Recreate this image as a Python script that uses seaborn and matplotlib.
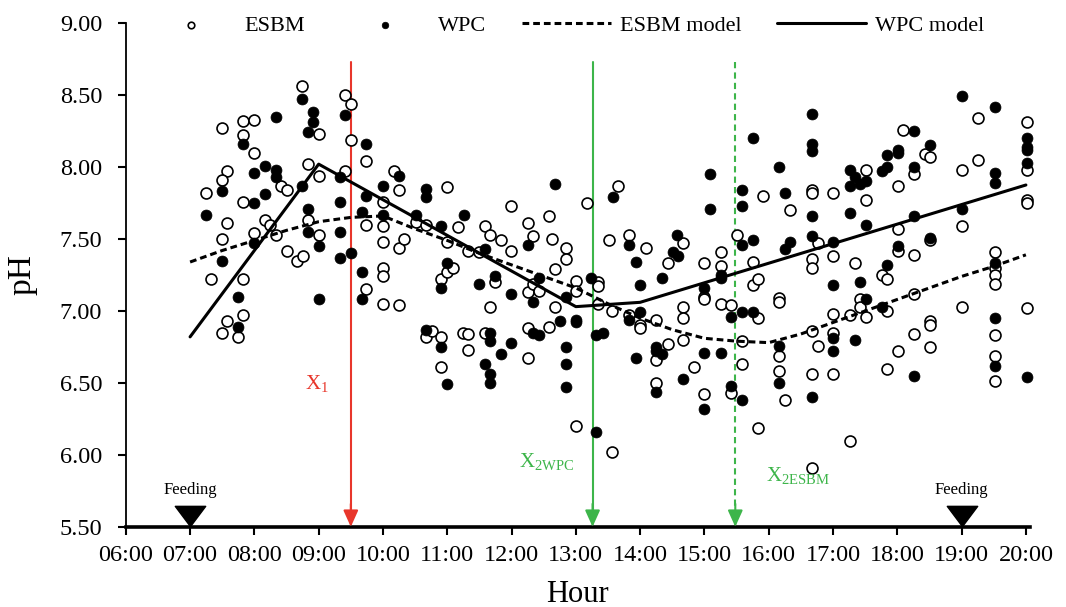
import matplotlib
matplotlib.use("Agg")
import matplotlib.pyplot as plt
import seaborn as sns
import pandas as pd
from matplotlib.path import Path

# ---------------- data ----------------
esbm_hour = [8.74, 9.41, 9.50, 7.50, 7.83, 8.00, 7.83, 8.00, 9.00, 9.50, 8.83, 9.00, 9.41, 9.74,
             7.57, 7.50, 7.24, 8.41, 8.50, 7.83, 8.16, 8.24, 7.57, 8.83, 8.00, 8.33, 9.00, 7.50,
             9.74, 8.50, 8.66, 8.75, 7.32, 7.83, 9.74, 7.57, 7.83, 7.50, 7.75,
             10.17, 10.25, 10.99, 10.00, 10.00, 10.00, 10.25, 10.33, 10.51, 10.67, 10.99, 11.16,
             11.33, 11.50, 11.58, 11.67, 11.84, 11.99, 11.99, 12.25, 12.33, 12.59, 12.63, 12.84,
             12.84, 12.67, 13.00, 13.00, 13.17, 10.00, 10.00, 10.00, 10.25, 10.91, 10.99, 11.09,
             11.74, 11.67, 12.25, 12.33, 12.42, 12.67, 12.59, 10.67, 10.76, 10.91, 11.24, 11.33,
             11.33, 11.58, 10.91, 12.25, 12.25, 13.00,
             13.66, 13.51, 13.83, 14.09, 14.66, 14.43, 13.34, 13.34, 13.34, 13.57, 13.83, 14.00,
             14.00, 14.25, 14.25, 14.25, 14.43, 14.66, 14.66, 14.66, 14.84, 15.00, 15.00, 15.00,
             15.00, 15.26, 15.26, 15.26, 15.42, 15.42, 15.51, 15.58, 15.58, 15.75, 15.75, 15.84,
             15.84, 15.84, 15.91, 16.33, 16.16, 16.16, 16.16, 16.16, 16.25, 16.68, 16.68, 16.68,
             16.68, 16.76, 16.68, 16.76, 16.68, 16.68, 13.57,
             17.00, 17.00, 17.00, 17.00, 17.00, 17.26, 17.26, 17.34, 17.42, 17.42, 17.51, 17.51,
             17.51, 17.76, 17.84, 17.84, 17.84, 18.01, 18.01, 18.01, 18.01, 18.09, 18.26, 18.26,
             18.26, 18.26, 18.43, 18.51, 18.51, 18.51, 18.51, 18.51, 19.01, 19.01, 19.01, 19.26,
             19.26, 19.52, 19.52, 19.52, 19.52, 19.52, 19.52, 19.52, 20.02, 20.02, 20.02, 20.02,
             20.02]
esbm_ph = [8.56, 8.50, 8.44, 8.27, 8.32, 8.33, 8.22, 8.10, 8.23, 8.19, 8.02, 7.94, 7.97, 8.04,
           7.97, 7.91, 7.82, 7.87, 7.84, 7.76, 7.63, 7.60, 7.61, 7.63, 7.54, 7.53, 7.53, 7.50,
           7.60, 7.42, 7.35, 7.38, 7.22, 7.22, 7.15, 6.93, 6.97, 6.85, 6.82,
           7.97, 7.84, 7.86, 7.76, 7.59, 7.48, 7.44, 7.50, 7.62, 7.60, 7.48, 7.58,
           7.42, 7.41, 7.59, 7.53, 7.49, 7.73, 7.42, 7.61, 7.52, 7.66, 7.50, 7.44,
           7.36, 7.29, 7.21, 7.14, 7.75, 7.30, 7.24, 7.05, 7.04, 7.22, 7.27, 7.30,
           7.20, 7.03, 7.13, 7.19, 7.14, 7.03, 6.89, 6.82, 6.86, 6.82, 6.85, 6.84,
           6.73, 6.85, 6.61, 6.88, 6.67, 6.20,
           7.87, 7.49, 7.53, 7.44, 7.47, 7.33, 7.20, 7.17, 7.05, 7.00, 6.97, 6.90,
           6.88, 6.94, 6.66, 6.50, 6.77, 7.03, 6.95, 6.80, 6.61, 7.33, 7.10, 7.08,
           6.42, 7.41, 7.31, 7.05, 7.04, 6.43, 7.53, 6.79, 6.63, 7.34, 7.18, 7.22,
           6.95, 6.19, 7.80, 7.70, 7.09, 7.06, 6.69, 6.58, 6.38, 7.84, 7.82, 7.36,
           7.30, 7.47, 6.86, 6.76, 6.56, 5.91, 6.02,
           7.82, 7.38, 6.98, 6.85, 6.56, 6.97, 6.10, 7.33, 7.08, 7.03, 7.98, 7.77,
           6.96, 7.25, 7.22, 7.00, 6.60, 7.87, 7.57, 7.42, 6.72, 8.26, 7.95, 7.39,
           7.12, 6.84, 8.09, 8.07, 7.49, 6.93, 6.90, 6.75, 7.98, 7.59, 7.03, 8.34,
           8.05, 7.41, 7.30, 7.25, 7.19, 6.83, 6.69, 6.51, 8.31, 7.98, 7.77, 7.75,
           7.02]

wpc_hour = [8.74, 8.91, 8.91, 8.83, 9.41, 8.33, 9.74, 7.83, 8.16, 8.33, 8.33, 8.00, 8.74, 9.33,
            7.50, 8.16, 8.00, 9.74, 9.33, 7.24, 8.83, 9.67, 8.83, 9.33, 8.00, 9.00, 7.50, 9.33,
            9.50, 9.67, 7.75, 9.00, 9.67, 7.75,
            10.25, 10.00, 10.67, 10.67, 12.67, 10.00, 10.51, 11.26, 10.91, 11.59, 12.25, 12.42,
            10.99, 10.91, 11.50, 11.74, 11.99, 12.33, 12.84, 13.00, 13.00, 12.75, 10.67, 11.67,
            11.67, 11.99, 12.33, 12.42, 10.91, 11.84, 11.59, 11.67, 11.67, 10.99, 12.84, 12.84,
            12.84, 13.23, 13.31, 13.31,
            13.58, 13.83, 13.93, 14.00, 13.83, 14.00, 13.43, 13.93, 14.25, 14.25, 14.34, 14.25,
            14.34, 14.51, 14.59, 14.58, 14.67, 15.00, 15.00, 15.00, 15.08, 15.08, 15.26, 15.26,
            15.26, 15.42, 15.42, 15.58, 15.58, 15.58, 15.58, 15.58, 15.75, 15.75, 15.75, 16.16,
            16.25, 16.25, 16.33, 16.16, 16.16, 16.68, 16.68, 16.68, 16.68, 16.68, 16.68,
            17.00, 17.00, 17.00, 17.00, 17.26, 17.26, 17.26, 17.34, 17.42, 17.51, 17.51, 17.34,
            17.42, 17.51, 17.76, 17.84, 17.84, 18.01, 18.01, 17.76, 17.84, 18.01, 18.26, 18.26,
            18.26, 18.26, 18.51, 18.51, 19.01, 19.01, 19.52, 19.52, 19.52, 19.52, 19.52, 19.52,
            20.02, 20.02, 20.02, 20.02, 20.02]
wpc_ph = [8.47, 8.38, 8.31, 8.24, 8.36, 8.35, 8.16, 8.16, 8.01, 7.98, 7.93, 7.96, 7.87, 7.93,
          7.83, 7.81, 7.75, 7.80, 7.76, 7.67, 7.71, 7.69, 7.55, 7.55, 7.47, 7.45, 7.35, 7.37,
          7.40, 7.27, 7.10, 7.08, 7.08, 6.89,
          7.94, 7.87, 7.85, 7.79, 7.88, 7.67, 7.67, 7.67, 7.59, 7.43, 7.46, 7.23,
          7.33, 7.16, 7.19, 7.24, 7.12, 7.06, 7.10, 6.94, 6.92, 6.93, 6.87, 6.85,
          6.79, 6.78, 6.85, 6.83, 6.75, 6.70, 6.63, 6.56, 6.50, 6.49, 6.75, 6.63,
          6.47, 7.23, 6.83, 6.16,
          7.79, 7.46, 7.34, 7.18, 6.94, 6.99, 6.85, 6.67, 6.75, 6.72, 6.70, 6.44,
          7.23, 7.41, 7.38, 7.53, 6.53, 7.16, 6.71, 6.32, 7.95, 7.71, 7.25, 7.23,
          6.71, 6.96, 6.48, 7.84, 7.73, 7.46, 6.99, 6.38, 8.20, 7.49, 6.99, 8.00,
          7.82, 7.43, 7.48, 6.76, 6.50, 8.37, 8.16, 8.11, 7.66, 7.52, 6.40,
          7.48, 7.18, 6.81, 6.72, 7.98, 7.87, 7.68, 7.93, 7.88, 7.90, 7.60, 6.80,
          7.20, 7.08, 7.97, 8.00, 8.08, 8.12, 8.10, 7.03, 7.32, 7.45, 8.25, 8.00,
          7.66, 6.55, 8.15, 7.51, 8.49, 7.71, 8.42, 7.96, 7.89, 7.33, 6.95, 6.62,
          8.20, 8.14, 8.12, 8.03, 6.54]

esbm_model_hour = [7, 7.5, 8, 8.5, 9, 9.5, 10, 10.5, 11, 11.5, 12, 12.5, 13, 13.5, 14, 14.5,
                   15, 15.5, 16, 16.5, 17, 17.5, 18, 18.5, 19, 19.5, 20]
esbm_model_ph = [7.34, 7.42, 7.49, 7.56, 7.62, 7.65, 7.66, 7.57, 7.49, 7.40, 7.32, 7.24, 7.16,
                 7.05, 6.95, 6.87, 6.81, 6.79, 6.78, 6.84, 6.92, 7.00, 7.08, 7.16, 7.24, 7.31, 7.39]
wpc_model_hour = [7, 9, 13, 14, 20]
wpc_model_ph = [6.82, 8.02, 7.03, 7.06, 7.875]

hour_ticks = list(range(6, 21))
hour_labels = [f"{h:02d}:00" for h in hour_ticks]
ph_ticks = [5.5, 6.0, 6.5, 7.0, 7.5, 8.0, 8.5, 9.0]

x1_hour = 9.50
x2_wpc_hour = 13.26
x2_esbm_hour = 15.48
feeding_hours = [7, 19]

# ---------------- style ----------------
sns.set_style("ticks")
plt.rcParams["font.family"] = ["Liberation Serif", "DejaVu Serif"]
plt.rcParams["mathtext.fontset"] = "custom"
plt.rcParams["mathtext.rm"] = "Liberation Serif"
for k in ["text.color", "axes.labelcolor", "xtick.color", "ytick.color", "axes.edgecolor"]:
    plt.rcParams[k] = "black"

RED = "#E8362B"
GREEN = "#3DB54A"

fig = plt.figure(figsize=(10.66, 6.07), dpi=100)
ax = fig.add_axes([0.118, 0.132, 0.848, 0.830])

df_e = pd.DataFrame({"hour": esbm_hour, "pH": esbm_ph})
df_w = pd.DataFrame({"hour": wpc_hour, "pH": wpc_ph})
df_em = pd.DataFrame({"hour": esbm_model_hour, "pH": esbm_model_ph})
df_wm = pd.DataFrame({"hour": wpc_model_hour, "pH": wpc_model_ph})

sns.scatterplot(data=df_e, x="hour", y="pH", ax=ax, marker="o", s=62,
                facecolor="white", edgecolor="black", linewidth=1.2, label="ESBM",
                clip_on=False, zorder=3)
sns.scatterplot(data=df_w, x="hour", y="pH", ax=ax, marker="o", s=62,
                color="black", edgecolor="black", linewidth=0.5, label="WPC",
                clip_on=False, zorder=3)
sns.lineplot(data=df_em, x="hour", y="pH", ax=ax, color="black", linewidth=2.2,
             linestyle=(0, (2.2, 1.3)), label="ESBM model", zorder=4)
sns.lineplot(data=df_wm, x="hour", y="pH", ax=ax, color="black", linewidth=2.2,
             label="WPC model", zorder=4)

# breakpoint arrows
top = 8.73
for xb, col, ls in [(x1_hour, RED, "-"), (x2_wpc_hour, GREEN, "-"), (x2_esbm_hour, GREEN, "--")]:
    ax.plot([xb, xb], [top, 5.62], color=col, lw=1.5, linestyle=ls, zorder=2,
            dashes=(3, 2) if ls == "--" else (None, None))
    ax.annotate("", xy=(xb, 5.5), xytext=(xb, 5.66),
                arrowprops=dict(arrowstyle="-|>,head_length=1.0,head_width=0.45",
                                color=col, lw=1.5, shrinkA=0, shrinkB=0), zorder=5)

ax.text(8.98, 6.49, r"X$_\mathregular{1}$", color=RED, fontsize=15, ha="center", va="center")
ax.text(12.55, 5.95, r"X$_\mathregular{2WPC}$", color=GREEN, fontsize=15, ha="center", va="center")
ax.text(16.45, 5.85, r"X$_\mathregular{2ESBM}$", color=GREEN, fontsize=15, ha="center", va="center")

# feeding markers
tri = Path([(-1.5, 1), (1.5, 1), (0, -1), (-1.5, 1)],
           [Path.MOVETO, Path.LINETO, Path.LINETO, Path.CLOSEPOLY])
ax.scatter(feeding_hours, [5.578] * len(feeding_hours), marker=tri, s=480, color="black",
           zorder=6, clip_on=False)
for fh in feeding_hours:
    ax.text(fh, 5.755, "Feeding", fontsize=12, ha="center", va="center")

# axes
ax.set_xlim(6, 20.06)
ax.set_ylim(5.5, 9.0)
ax.set_xticks(hour_ticks)
ax.set_xticklabels(hour_labels)
ax.set_yticks(ph_ticks)
ax.set_yticklabels([f"{v:.2f}" for v in ph_ticks])
ax.tick_params(axis="both", labelsize=17.5, direction="out", length=6, width=1.5,
               color="black", labelcolor="black")
ax.tick_params(axis="x", pad=7)
ax.tick_params(axis="y", pad=11)
ax.set_xlabel("Hour", fontsize=22, labelpad=10)
ax.set_ylabel("pH", fontsize=24, labelpad=16)
sns.despine(ax=ax)
ax.spines["bottom"].set_linewidth(2.6)
ax.spines["left"].set_linewidth(1.3)

handles, labels = ax.get_legend_handles_labels()
ax.legend(handles, labels, loc="center", bbox_to_anchor=(0.486, 0.995), ncol=4,
          frameon=False, fontsize=16, handlelength=4.0, handletextpad=0.4,
          columnspacing=1.6, markerscale=0.6)

fig.savefig("out.png", dpi=100)
